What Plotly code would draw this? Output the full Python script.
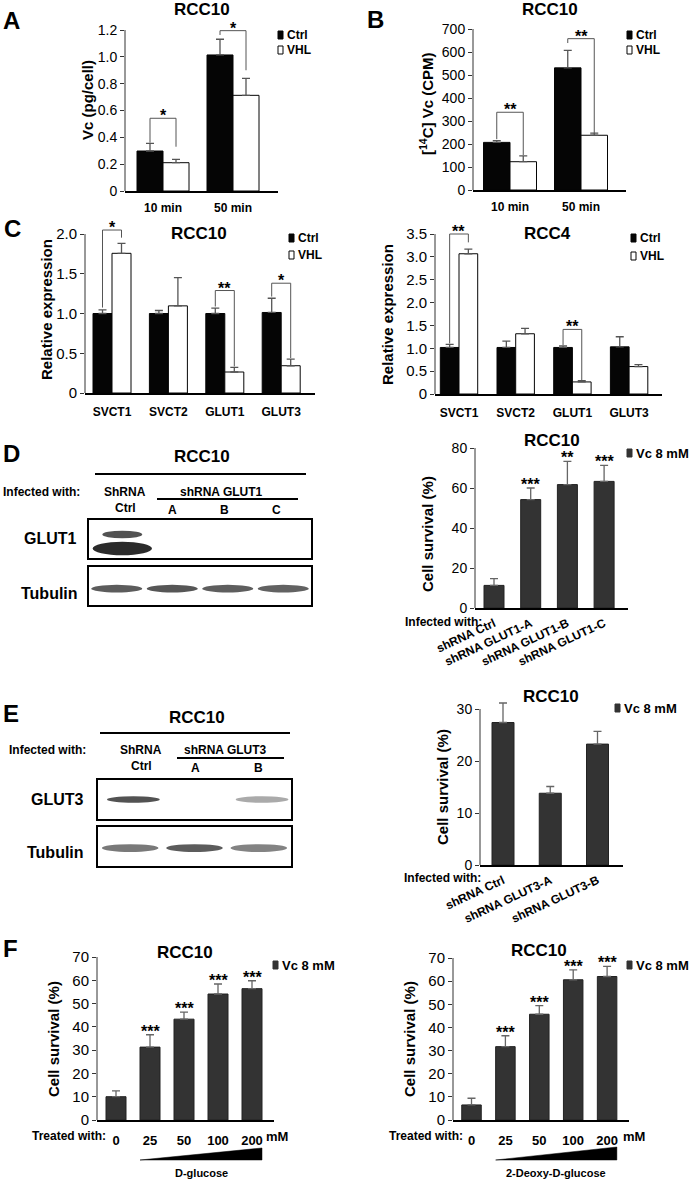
import plotly.graph_objects as go

# ---------------- data ----------------
# Panel A  (RCC10, Vc uptake)
a_cats = ["10 min", "50 min"]
a_ctrl = [0.298, 1.014]
a_ctrl_err = [0.057, 0.117]
a_vhl = [0.211, 0.713]
a_vhl_err = [0.025, 0.127]
a_yticks = [0, 0.2, 0.4, 0.6, 0.8, 1.0, 1.2]
a_yticklabels = ["0", "0.2", "0.4", "0.6", "0.8", "1.0", "1.2"]
a_sig_idx = [0, 1]
a_sig_top = [0.542, 1.195]
a_sig_left = [0.36, 1.163]
a_sig_right = [0.33, 0.90]
a_sig_text = ["*", "*"]

# Panel B  (RCC10, [14C] Vc)
b_cats = ["10 min", "50 min"]
b_ctrl = [207, 531]
b_ctrl_err = [8, 76]
b_vhl = [123, 238]
b_vhl_err = [25, 9]
b_yticks = [0, 100, 200, 300, 400, 500, 600, 700]
b_yticklabels = ["0", "100", "200", "300", "400", "500", "600", "700"]
b_sig_idx = [0, 1]
b_sig_top = [338, 658]
b_sig_left = [221, 639]
b_sig_right = [152, 247]
b_sig_text = ["**", "**"]

# Panel C  (relative expression)
c_cats = ["SVCT1", "SVCT2", "GLUT1", "GLUT3"]
c1_ctrl = [1.0, 1.0, 1.0, 1.013]
c1_ctrl_err = [0.046, 0.038, 0.067, 0.179]
c1_vhl = [1.757, 1.096, 0.264, 0.343]
c1_vhl_err = [0.126, 0.356, 0.058, 0.084]
c1_yticks = [0, 0.5, 1.0, 1.5, 2.0]
c1_yticklabels = ["0", "0.5", "1.0", "1.5", "2.0"]
c1_sig_idx = [0, 2, 3]
c1_sig_top = [2.05, 1.289, 1.381]
c1_sig_left = [1.075, 1.088, 1.213]
c1_sig_right = [1.954, 0.335, 0.44]
c1_sig_text = ["*", "**", "*"]

c2_ctrl = [1.018, 1.018, 1.018, 1.032]
c2_ctrl_err = [0.066, 0.139, 0.036, 0.22]
c2_vhl = [3.068, 1.318, 0.264, 0.60]
c2_vhl_err = [0.102, 0.117, 0.029, 0.044]
c2_yticks = [0, 0.5, 1.0, 1.5, 2.0, 2.5, 3.0, 3.5]
c2_yticklabels = ["0", "0.5", "1.0", "1.5", "2.0", "2.5", "3.0", "3.5"]
c2_sig_idx = [0, 2]
c2_sig_top = [3.5, 1.413]
c2_sig_left = [1.106, 1.069]
c2_sig_right = [3.317, 0.30]
c2_sig_text = ["**", "**"]

# Panel D
d_cats = ["shRNA Ctrl", "shRNA GLUT1-A", "shRNA GLUT1-B", "shRNA GLUT1-C"]
d_vals = [11.3, 54.2, 61.7, 63.3]
d_err = [3.4, 5.8, 11.6, 8.0]
d_stars = ["", "***", "**", "***"]
d_yticks = [0, 20, 40, 60, 80]
d_yticklabels = ["0", "20", "40", "60", "80"]
d_lane_labels = ["A", "B", "C"]
d_glut1_lower = [1.0, 0.0, 0.0, 0.0]
d_glut1_upper = [0.8, 0.0, 0.0, 0.0]
d_tubulin = [0.75, 0.78, 0.74, 0.72]

# Panel E
e_cats = ["shRNA Ctrl", "shRNA GLUT3-A", "shRNA GLUT3-B"]
e_vals = [27.4, 13.8, 23.25]
e_err = [3.75, 1.3, 2.45]
e_yticks = [0, 10, 20, 30]
e_yticklabels = ["0", "10", "20", "30"]
e_lane_labels = ["A", "B"]
e_glut3 = [0.8, 0.0, 0.35]
e_tubulin = [0.6, 0.75, 0.55]

# Panel F
f_cats = ["0", "25", "50", "100", "200"]
f1_vals = [10.0, 31.3, 43.3, 54.1, 56.4]
f1_err = [2.5, 5.3, 3.0, 4.3, 3.4]
f2_vals = [6.5, 31.7, 45.7, 60.6, 62.0]
f2_err = [2.9, 4.7, 3.7, 4.3, 4.4]
f_stars = ["", "***", "***", "***", "***"]
f_yticks = [0, 10, 20, 30, 40, 50, 60, 70]
f_yticklabels = ["0", "10", "20", "30", "40", "50", "60", "70"]

# ---------------- helpers ----------------
W, H = 693, 1180
FONT = "Arial, 'Liberation Sans', Helvetica, sans-serif"
fig = go.Figure()
L = dict(width=W, height=H, margin=dict(l=0, r=0, t=0, b=0, pad=0, autoexpand=False),
         paper_bgcolor="white", plot_bgcolor="white", showlegend=False,
         font=dict(family=FONT, color="black"))
anns = []
shapes = []
n_ax = [0]


def fx(px):
    return px / W


def fy(py):
    return 1 - py / H


def text(s, x, y, size, bold=True, xanchor="center", yanchor="middle", angle=0):
    anns.append(dict(text=s, x=fx(x), y=fy(y), xref="paper", yref="paper",
                     showarrow=False, xanchor=xanchor, yanchor=yanchor,
                     textangle=angle, borderpad=0,
                     font=dict(size=size, family=FONT, color="black",
                               weight="bold" if bold else "normal")))


def hline(x0, x1, y, w=2):
    shapes.append(dict(type="line", xref="paper", yref="paper", x0=fx(x0), x1=fx(x1),
                       y0=fy(y), y1=fy(y), line=dict(color="black", width=w)))


def key(x, y, label, fill, outline, size=12):
    shapes.append(dict(type="rect", xref="paper", yref="paper", x0=fx(x), x1=fx(x + 5),
                       y0=fy(y + 4), y1=fy(y - 4), fillcolor=fill,
                       line=dict(color=outline, width=1)))
    text(label, x + 8, y, size, xanchor="left")


def new_axes():
    n_ax[0] += 1
    i = n_ax[0]
    s = "" if i == 1 else str(i)
    return "x" + s, "y" + s, "xaxis" + s, "yaxis" + s


def chart(xl, xr, ytop, ybot, c0, sp, ymax, ytickvals, yticktext, cats,
          ytick_size=14, xtick_size=12, tickangle=0, standoff=4, axcol="#333"):
    xid, yid, xk, yk = new_axes()
    ext = min(30, ytop)
    yr_top = ymax * (ybot - (ytop - ext)) / (ybot - ytop)
    L[xk] = dict(domain=[fx(xl), fx(xr)], range=[(xl - c0) / sp, (xr - c0) / sp],
                 anchor=yid, showline=True, linecolor="black", linewidth=2, ticks="",
                 tickvals=list(range(len(cats))), ticktext=cats,
                 tickfont=dict(size=xtick_size, weight="bold", family=FONT),
                 tickangle=tickangle, ticklabelstandoff=standoff, automargin=False,
                 showgrid=False, zeroline=False, fixedrange=True)
    L[yk] = dict(domain=[fy(ybot), min(1.0, fy(ytop - ext))], range=[0, yr_top], anchor=xid,
                 showline=False, ticks="outside", ticklen=4, tickwidth=1, tickcolor=axcol,
                 tickvals=ytickvals, ticktext=yticktext, automargin=False,
                 tickfont=dict(size=ytick_size, family=FONT),
                 showgrid=False, zeroline=False, fixedrange=True)
    shapes.append(dict(type="line", xref=xid + " domain", yref=yid, x0=0, x1=0,
                       y0=0, y1=ymax, line=dict(color=axcol, width=1)))
    return xid, yid


def bars(xid, yid, vals, errs, sp, wpx, off_px, fill, outline, errcol):
    fig.add_trace(go.Bar(
        x=list(range(len(vals))), y=vals, width=wpx / sp, offset=off_px / sp,
        xaxis=xid, yaxis=yid, cliponaxis=False, showlegend=False, hoverinfo="skip",
        marker=dict(color=fill, line=dict(color=outline, width=1)),
        error_y=dict(type="data", array=errs, arrayminus=[0] * len(vals),
                     symmetric=False, color=errcol, thickness=1.3, width=4)))


def brackets(xid, yid, idx, tops, lefts, rights, labels, half, size=16):
    for i, y, yl, yr, lab in zip(idx, tops, lefts, rights, labels):
        x0, x1 = i - half, i + half
        shapes.append(dict(type="path", xref=xid, yref=yid,
                           path=f"M {x0},{yl} L {x0},{y} L {x1},{y} L {x1},{yr}",
                           line=dict(color="#555", width=1)))
        anns.append(dict(text=lab, x=i, y=y, xref=xid, yref=yid, showarrow=False,
                         yanchor="bottom", yshift=-7, borderpad=0,
                         font=dict(size=size, weight="bold", family=FONT)))


def stars(xid, yid, vals, errs, labels, size=16):
    for i, (v, e, lab) in enumerate(zip(vals, errs, labels)):
        if lab:
            anns.append(dict(text=lab, x=i, y=v + e, xref=xid, yref=yid, showarrow=False,
                             yanchor="bottom", yshift=-6, borderpad=0,
                             font=dict(size=size, weight="bold", family=FONT)))


def blot_box(xl, xr, ytop, ybot, nl):
    xid, yid, xk, yk = new_axes()
    common = dict(showline=True, mirror=True, linecolor="black", linewidth=2,
                  showticklabels=False, ticks="", showgrid=False, zeroline=False,
                  automargin=False, fixedrange=True)
    L[xk] = dict(domain=[fx(xl), fx(xr)], range=[0, nl], anchor=yid, **common)
    L[yk] = dict(domain=[fy(ybot), fy(ytop)], range=[0, 1], anchor=xid, **common)
    fig.add_trace(go.Scatter(x=[None], y=[None], xaxis=xid, yaxis=yid,
                             showlegend=False, hoverinfo="skip"))
    return xid, yid


def bands(xid, yid, intens, yc, hgt, wid, shift=0.0):
    for lane, v in enumerate(intens):
        if v <= 0:
            continue
        g = int(round(238 - 195 * v))
        shapes.append(dict(type="circle", xref=xid, yref=yid,
                           x0=lane + 0.5 + shift - wid / 2, x1=lane + 0.5 + shift + wid / 2,
                           y0=yc - hgt / 2, y1=yc + hgt / 2,
                           fillcolor=f"rgb({g},{g},{g})", line=dict(width=0)))


BLACK, WHITE, DARK = "#050505", "#ffffff", "#333333"

# ---------------- Panel A ----------------
A = dict(xl=125, xr=278, c0=163, sp=70, w=26)
xa, ya = chart(A["xl"], A["xr"], 30, 191, A["c0"], A["sp"], 1.2, a_yticks, a_yticklabels,
               a_cats, ytick_size=14, xtick_size=12, standoff=5)
bars(xa, ya, a_ctrl, a_ctrl_err, A["sp"], A["w"], -A["w"], BLACK, BLACK, "#555")
bars(xa, ya, a_vhl, a_vhl_err, A["sp"], A["w"], 0, WHITE, BLACK, "#555")
brackets(xa, ya, a_sig_idx, a_sig_top, a_sig_left, a_sig_right, a_sig_text, A["w"] / 2 / A["sp"])
text("A", 11, 21, 24)
text("RCC10", 202, 10, 17)
text("Vc (pg/cell)", 87, 100, 15, angle=-90)
key(278, 35, "Ctrl", BLACK, BLACK)
key(278, 50, "VHL", WHITE, BLACK)

# ---------------- Panel B ----------------
B = dict(xl=473, xr=626, c0=510, sp=71, w=26.5)
xb, yb = chart(B["xl"], B["xr"], 29, 190, B["c0"], B["sp"], 700, b_yticks, b_yticklabels,
               b_cats, ytick_size=14, xtick_size=12, standoff=5)
bars(xb, yb, b_ctrl, b_ctrl_err, B["sp"], B["w"], -B["w"], BLACK, BLACK, "#555")
bars(xb, yb, b_vhl, b_vhl_err, B["sp"], B["w"], 0, WHITE, BLACK, "#555")
brackets(xb, yb, b_sig_idx, b_sig_top, b_sig_left, b_sig_right, b_sig_text, B["w"] / 2 / B["sp"])
text("B", 375, 20, 24)
text("RCC10", 550, 10, 17)
text("[<sup>14</sup>C] Vc (CPM)", 426, 103, 15, angle=-90)
key(627, 35, "Ctrl", BLACK, BLACK)
key(627, 50, "VHL", WHITE, BLACK)

# ---------------- Panel C ----------------
C1 = dict(xl=85, xr=315, c0=112, sp=56.4, w=19)
xc1, yc1 = chart(C1["xl"], C1["xr"], 234, 393, C1["c0"], C1["sp"], 2.0, c1_yticks,
                 c1_yticklabels, c_cats, ytick_size=15, xtick_size=12, standoff=7)
bars(xc1, yc1, c1_ctrl, c1_ctrl_err, C1["sp"], C1["w"], -C1["w"], BLACK, BLACK, "#555")
bars(xc1, yc1, c1_vhl, c1_vhl_err, C1["sp"], C1["w"], 0, WHITE, BLACK, "#555")
brackets(xc1, yc1, c1_sig_idx, c1_sig_top, c1_sig_left, c1_sig_right, c1_sig_text,
         C1["w"] / 2 / C1["sp"])
text("C", 12, 228, 24)
text("RCC10", 199, 233, 17)
text("Relative expression", 47, 310, 15, angle=-90)
key(289, 238, "Ctrl", BLACK, BLACK)
key(289, 255, "VHL", WHITE, BLACK)

C2 = dict(xl=435, xr=662, c0=459, sp=56.7, w=18.7)
xc2, yc2 = chart(C2["xl"], C2["xr"], 234, 394, C2["c0"], C2["sp"], 3.5, c2_yticks,
                 c2_yticklabels, c_cats, ytick_size=15, xtick_size=12, standoff=7)
bars(xc2, yc2, c2_ctrl, c2_ctrl_err, C2["sp"], C2["w"], -C2["w"], BLACK, BLACK, "#555")
bars(xc2, yc2, c2_vhl, c2_vhl_err, C2["sp"], C2["w"], 0, WHITE, BLACK, "#555")
brackets(xc2, yc2, c2_sig_idx, c2_sig_top, c2_sig_left, c2_sig_right, c2_sig_text,
         C2["w"] / 2 / C2["sp"])
text("RCC4", 547, 233, 17)
text("Relative expression", 388, 315, 15, angle=-90)
key(631, 238, "Ctrl", BLACK, BLACK)
key(631, 256, "VHL", WHITE, BLACK)

# ---------------- Panel D ----------------
text("D", 11, 453, 24)
text("RCC10", 202, 457, 17)
hline(95, 306, 474)
text("Infected with:", 2, 492, 12, xanchor="left")
text("ShRNA", 125, 492, 12)
text("Ctrl", 125, 508, 12)
text("shRNA GLUT1", 222, 492, 12)
hline(157, 298, 499)
for lab, xp in zip(d_lane_labels, [172, 224, 276]):
    text(lab, xp, 510, 12)
text("GLUT1", 78, 538, 16, xanchor="right")
text("Tubulin", 79, 593, 16, xanchor="right")
xg1, yg1 = blot_box(89, 311, 520, 558, 4)
bands(xg1, yg1, d_glut1_lower, 0.25, 0.36, 1.07, shift=0.1)
bands(xg1, yg1, d_glut1_upper, 0.62, 0.2, 0.72, shift=0.1)
xt1, yt1 = blot_box(89, 311, 567, 605, 4)
bands(xt1, yt1, d_tubulin, 0.43, 0.2, 0.92)

D = dict(xl=475, xr=628, c0=494, sp=36.7, w=20)
xd, yd = chart(D["xl"], D["xr"], 448, 608, D["c0"], D["sp"], 80, d_yticks, d_yticklabels,
               d_cats, ytick_size=14, xtick_size=12, tickangle=-25, standoff=2)
bars(xd, yd, d_vals, d_err, D["sp"], D["w"], -D["w"] / 2, DARK, "#222", "#666")
stars(xd, yd, d_vals, d_err, d_stars)
text("RCC10", 552, 441, 17)
text("Cell survival (%)", 427, 534, 15, angle=-90)
text("Infected with:", 483, 622, 12, xanchor="right")
key(627, 453, "Vc 8 mM", DARK, DARK, size=13)

# ---------------- Panel E ----------------
text("E", 11, 713, 24)
text("RCC10", 197, 717, 17)
hline(100, 290, 733)
text("Infected with:", 8, 750, 12, xanchor="left")
text("ShRNA", 141, 750, 12)
text("Ctrl", 141, 766, 12)
text("shRNA GLUT3", 225, 750, 12)
hline(177, 284, 758)
for lab, xp in zip(e_lane_labels, [195, 258]):
    text(lab, xp, 768, 12)
text("GLUT3", 85, 799, 16, xanchor="right")
text("Tubulin", 85, 852, 16, xanchor="right")
xg3, yg3 = blot_box(98, 291, 780, 819, 3)
bands(xg3, yg3, e_glut3, 0.5, 0.17, 0.82, shift=0.05)
xt3, yt3 = blot_box(98, 291, 827, 866, 3)
bands(xt3, yt3, e_tubulin, 0.46, 0.2, 0.88)

E = dict(xl=480, xr=623, c0=503, sp=47.25, w=22)
xe, ye = chart(E["xl"], E["xr"], 709, 865, E["c0"], E["sp"], 30, e_yticks, e_yticklabels,
               e_cats, ytick_size=14, xtick_size=12, tickangle=-25, standoff=2)
bars(xe, ye, e_vals, e_err, E["sp"], E["w"], -E["w"] / 2, DARK, "#222", "#666")
text("RCC10", 551, 696, 17)
text("Cell survival (%)", 442, 787, 15, angle=-90)
text("Infected with:", 482, 878, 12, xanchor="right")
key(615, 708, "Vc 8 mM", DARK, DARK, size=13)

# ---------------- Panel F ----------------
text("F", 10, 948, 24)
F1 = dict(xl=97, xr=274, c0=116, sp=34, w=20)
xf1, yf1 = chart(F1["xl"], F1["xr"], 957, 1120, F1["c0"], F1["sp"], 70, f_yticks,
                 f_yticklabels, f_cats, ytick_size=15, xtick_size=13, standoff=7)
bars(xf1, yf1, f1_vals, f1_err, F1["sp"], F1["w"], -F1["w"] / 2, DARK, "#222", "#666")
stars(xf1, yf1, f1_vals, f1_err, f_stars)
text("RCC10", 185, 952, 17)
text("Cell survival (%)", 53, 1039, 15, angle=-90)
text("Treated with:", 107, 1136, 12, xanchor="right")
text("mM", 277, 1136, 13)
key(273, 965, "Vc 8 mM", DARK, DARK, size=13)
half1 = F1["w"] / 2 / F1["sp"]
shapes.append(dict(type="path", xref=xf1, yref="paper", fillcolor="black",
                   line=dict(color="black", width=0.5),
                   path=f"M {1 - half1},{fy(1160)} L {len(f_cats) - 1 + half1},{fy(1160)} "
                        f"L {len(f_cats) - 1 + half1},{fy(1148)} Z"))
text("D-glucose", 202, 1173, 11)

F2 = dict(xl=453, xr=629, c0=471.5, sp=33.9, w=19.5)
xf2, yf2 = chart(F2["xl"], F2["xr"], 958, 1120, F2["c0"], F2["sp"], 70, f_yticks,
                 f_yticklabels, f_cats, ytick_size=15, xtick_size=13, standoff=7)
bars(xf2, yf2, f2_vals, f2_err, F2["sp"], F2["w"], -F2["w"] / 2, DARK, "#222", "#666")
stars(xf2, yf2, f2_vals, f2_err, f_stars)
text("RCC10", 539, 950, 17)
text("Cell survival (%)", 409, 1039, 15, angle=-90)
text("Treated with:", 464, 1136, 12, xanchor="right")
text("mM", 634, 1136, 13)
key(627, 965, "Vc 8 mM", DARK, DARK, size=13)
half2 = F2["w"] / 2 / F2["sp"]
shapes.append(dict(type="path", xref=xf2, yref="paper", fillcolor="black",
                   line=dict(color="black", width=0.5),
                   path=f"M {1 - half2},{fy(1160)} L {len(f_cats) - 1 + half2},{fy(1160)} "
                        f"L {len(f_cats) - 1 + half2},{fy(1147)} Z"))
text("2-Deoxy-D-glucose", 556, 1173, 11)

L["annotations"] = anns
L["shapes"] = shapes
fig.update_layout(**L)
fig.write_html("out.html", config={"displayModeBar": False, "staticPlot": True},
               post_script="document.body.style.margin='0';document.body.style.overflow='hidden';")
